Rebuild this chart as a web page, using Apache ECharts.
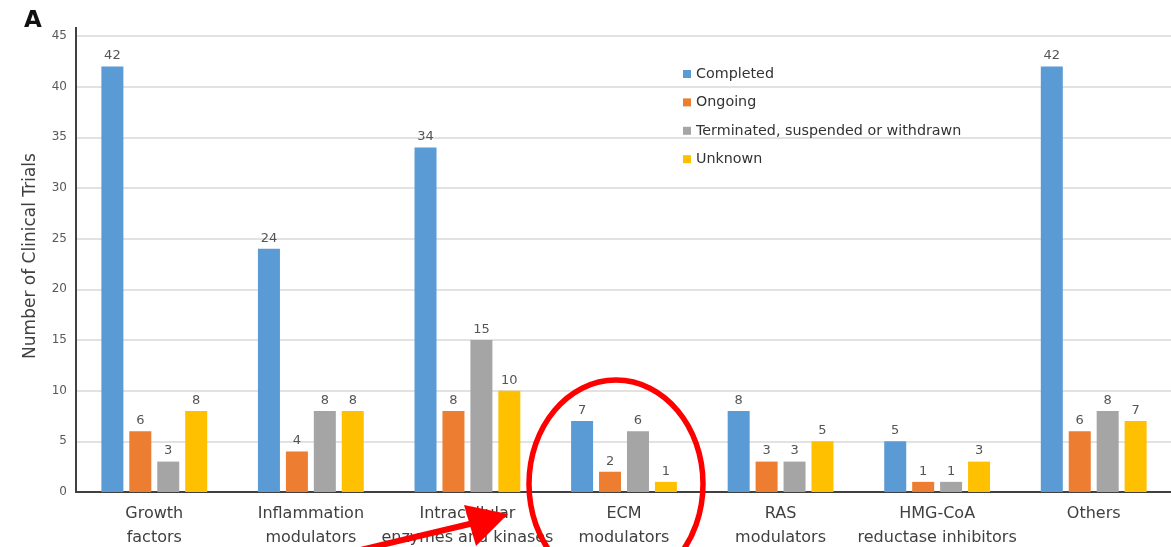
<!DOCTYPE html>
<html>
<head>
<meta charset="utf-8">
<script src="https://cdn.jsdelivr.net/npm/echarts@6/dist/echarts.min.js"></script>
<style>
  html, body { margin: 0; padding: 0; background: #fff; }
  #chart { width: 1171px; height: 547px; }
</style>
</head>
<body>
<div id="chart"></div>
<script>
// Clinical trials by drug class and trial status
const categories = [
  'Growth\nfactors',
  'Inflammation\nmodulators',
  'Intracellular\nenzymes and kinases',
  'ECM\nmodulators',
  'RAS\nmodulators',
  'HMG-CoA\nreductase inhibitors',
  'Others'
];
const completed  = [42, 24, 34, 7, 8, 5, 42];
const ongoing    = [6, 4, 8, 2, 3, 1, 6];
const terminated = [3, 8, 15, 6, 3, 1, 8];
const unknown    = [8, 8, 10, 1, 5, 3, 7];
const yTicks = [0, 5, 10, 15, 20, 25, 30, 35, 40, 45];

const seriesNames = ['Completed', 'Ongoing', 'Terminated, suspended or withdrawn', 'Unknown'];
const seriesColors = ['#5B9BD5', '#ED7D31', '#A5A5A5', '#FFC000'];
const seriesData = [completed, ongoing, terminated, unknown];

const FONT = '"DejaVu Sans", Verdana, sans-serif';
const chart = echarts.init(document.getElementById('chart'), null, { renderer: 'canvas' });

const option = {
  animation: false,
  textStyle: { fontFamily: FONT },
  title: {
    text: 'A', left: 19, top: 5,
    textStyle: { fontSize: 23, fontWeight: 'bold', color: '#111', fontFamily: FONT }
  },
  grid: {
    left: 76, right: -1, top: 36, bottom: 55,
    containLabel: false, outerBoundsMode: 'none'
  },
  legend: {
    orient: 'vertical', left: 678, top: 61,
    icon: 'rect', itemWidth: 8, itemHeight: 8, itemGap: 12.4,
    textStyle: { fontSize: 14.3, color: '#333', lineHeight: 16, fontFamily: FONT },
    data: seriesNames
  },
  xAxis: {
    type: 'category',
    data: categories,
    axisLine: { lineStyle: { color: '#404040', width: 2 } },
    axisTick: { show: false },
    axisLabel: { fontSize: 16, color: '#404040', lineHeight: 24, margin: 10, interval: 0, fontFamily: FONT }
  },
  yAxis: {
    type: 'value',
    min: yTicks[0], max: yTicks[yTicks.length - 1], interval: 5,
    name: 'Number of Clinical Trials',
    nameLocation: 'middle', nameGap: 37,
    nameTextStyle: { fontSize: 17, color: '#404040', fontFamily: FONT, padding: [0, 0, 0, 16] },
    axisLine: { show: true, lineStyle: { color: '#404040', width: 2 } },
    axisTick: { show: false },
    axisLabel: { fontSize: 12, color: '#595959', margin: 9, fontFamily: FONT },
    splitLine: { lineStyle: { color: '#d9d9d9', width: 1.5 } }
  },
  series: seriesNames.map((name, i) => ({
    name,
    type: 'bar',
    data: seriesData[i],
    barWidth: 22,
    barGap: '27%',
    itemStyle: { color: seriesColors[i] },
    label: {
      show: true, position: 'top', distance: 4,
      fontSize: 13, color: '#555', fontFamily: FONT
    }
  }))
};
chart.setOption(option);

// Axis line runs a little past the top tick; red highlight ellipse and arrow
const top45 = chart.convertToPixel({ yAxisIndex: 0 }, 45);
const x0 = chart.convertToPixel({ xAxisIndex: 0 }, 0) - 78.3;
chart.setOption({
  graphic: [
    {
      type: 'line', z: 10,
      shape: { x1: x0, y1: top45 + 1, x2: x0, y2: top45 - 9 },
      style: { stroke: '#404040', lineWidth: 2 }
    },
    {
      type: 'ellipse', z: 20,
      shape: { cx: 616, cy: 484, rx: 87, ry: 104 },
      style: { fill: 'none', stroke: '#ff0000', lineWidth: 5.5 }
    },
    {
      type: 'line', z: 20,
      shape: { x1: 352, y1: 552, x2: 478, y2: 522 },
      style: { stroke: '#ff0000', lineWidth: 6 }
    },
    {
      type: 'polygon', z: 20,
      shape: { points: [[508, 514], [464, 505], [476, 546]] },
      style: { fill: '#ff0000' }
    }
  ]
});
</script>
</body>
</html>
